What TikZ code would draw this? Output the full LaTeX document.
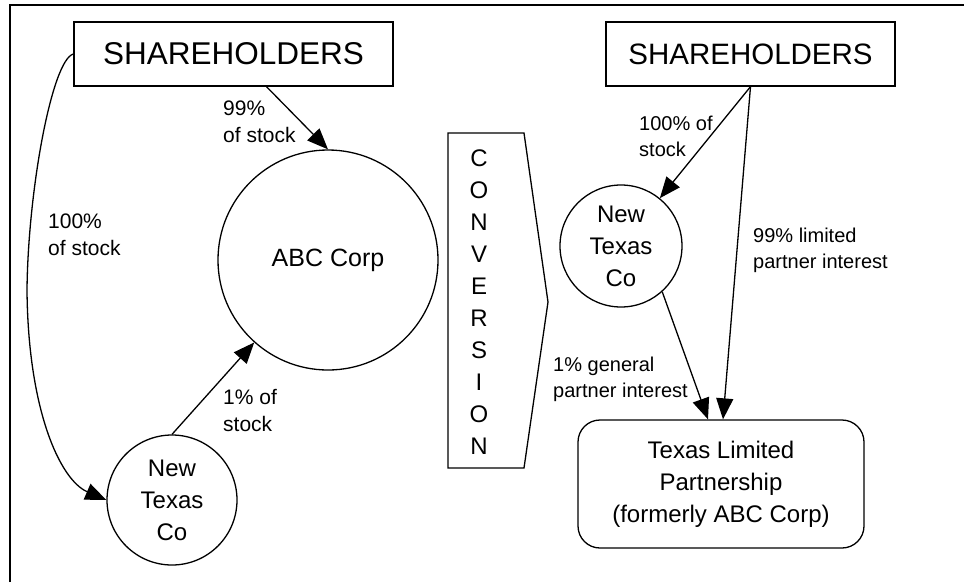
\documentclass[tikz,border=0pt]{standalone}
\usepackage{fontspec}
\setmainfont{Liberation Sans}
\usepackage{tikz}
\usetikzlibrary{arrows.meta, positioning, calc}

\begin{document}
\begin{tikzpicture}[
    x=1pt, y=-1pt,
    holder/.style={rectangle, draw=black, line width=1.3pt, minimum height=64pt, inner sep=0pt},
    company/.style={circle, draw=black, line width=1.3pt, inner sep=0pt, align=center, font=\fontsize{24}{32}\selectfont},
    partnership/.style={rectangle, rounded corners=22pt, draw=black, line width=1.3pt, minimum width=286pt, minimum height=128pt, align=center, font=\fontsize{24}{32}\selectfont},
    arrow/.style={-{Triangle[length=21pt, width=17pt]}, line width=1.3pt},
    pct/.style={anchor=north west, inner sep=0pt, align=left, font=\fontsize{20}{26}\selectfont}
]
\useasboundingbox (0,0) rectangle (964,582);

% Frame
\draw[line width=2pt] (10,582) -- (10,5) -- (964,5);

% Before conversion (left side)
\node[holder, minimum width=319pt, font=\fontsize{31.5}{38}\selectfont] (oldholders) at (233.5,54) {SHAREHOLDERS};
\node[company, minimum size=220pt, font=\fontsize{25}{30}\selectfont] (abc) at (328,260) {ABC Corp};
\node[company, minimum size=130pt] (newco) at (172,500) {New\\Texas\\Co};

% Conversion arrow
\draw[line width=1.3pt] (448,133) -- (524,133) -- (548,302) -- (524,468) -- (448,468) -- cycle;
\node[font=\fontsize{24}{32}\selectfont, align=center, inner sep=0pt] (conv) at (479,302.5) {C\\O\\N\\V\\E\\R\\S\\I\\O\\N};

% After conversion (right side)
\node[holder, minimum width=289pt, font=\fontsize{29.5}{34}\selectfont] (newholders) at (750.5,54) {SHAREHOLDERS};
\node[company, minimum size=122pt] (newco2) at (621,246) {New\\Texas\\Co};
\node[partnership] (tlp) at (721,484) {Texas Limited\\Partnership\\(formerly ABC Corp)};

% Ownership arrows (left)
\coordinate (bend) at (27,290);
\draw[arrow] ([xshift=33pt]oldholders.south) -- (abc.north);
\draw[arrow] (oldholders.west) .. controls (52,60) and (28,190) .. (bend) .. controls (28,410) and (60,480) .. (newco.west);
\draw[arrow] (newco.north) -- (abc);

% Ownership arrows (right)
\draw[arrow] (newholders.south) -- (newco2);
\draw[arrow] (newholders.south) -- ([xshift=2pt]tlp.north);
\draw[arrow] (newco2.-48) -- ([xshift=-13pt]tlp.north);

% Labels
\node[pct, font=\fontsize{21}{27}\selectfont] (lbl99) at (223,101) {99\%\\of stock};
\node[pct, font=\fontsize{21}{27}\selectfont] (lbl100) at (48,214) {100\%\\of stock};
\node[pct, font=\fontsize{21}{27}\selectfont] (lbl1) at (223,389) {1\% of\\stock};
\node[pct] (lblnew) at (639,116) {100\% of\\stock};
\node[pct] (lbllim) at (753,228) {99\% limited\\partner interest};
\node[pct] (lblgen) at (553,357) {1\% general\\partner interest};

\end{tikzpicture}
\end{document}
